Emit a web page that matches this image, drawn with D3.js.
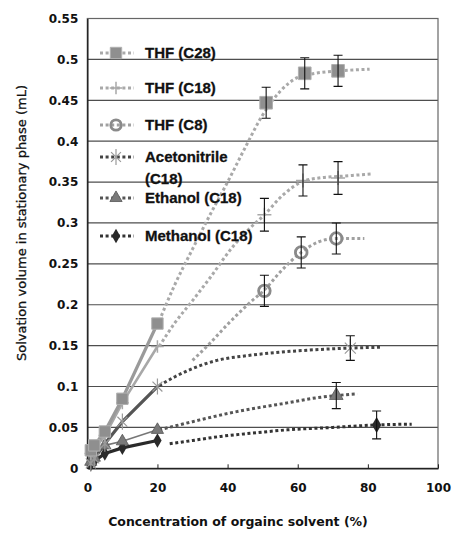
<!DOCTYPE html>
<html><head><meta charset="utf-8">
<script src="https://cdn.jsdelivr.net/npm/d3@7"></script>
<style>body{margin:0;background:#fff}svg{display:block}</style>
</head><body>
<script>
// ---- data ----
const xTicks = [0, 20, 40, 60, 80, 100];
const yTicks = [0, 0.05, 0.1, 0.15, 0.2, 0.25, 0.3, 0.35, 0.4, 0.45, 0.5, 0.55];
const yTickLabels = ["0", "0.05", "0.1", "0.15", "0.2", "0.25", "0.3", "0.35", "0.4", "0.45", "0.5", "0.55"];
const seriesNames = ["THF (C28)", "THF (C18)", "THF (C8)", "Acetonitrile (C18)", "Ethanol (C18)", "Methanol (C18)"];

// low-concentration measured points [conc, volume]
const thfC28Low = [[1, 0.022], [2, 0.028], [5, 0.045], [10, 0.085], [20, 0.177]];
const thfC18Low = [[1, 0.018], [2, 0.024], [5, 0.040], [10, 0.080], [20, 0.149]];
const thfC8Low = [];
const acnLow = [[1, 0.006], [2, 0.012], [5, 0.030], [10, 0.057], [20, 0.100]];
const etohLow = [[1, 0.008], [2, 0.013], [5, 0.028], [10, 0.033], [20, 0.047]];
const meohLow = [[1, 0.005], [2, 0.009], [5, 0.018], [10, 0.025], [20, 0.034]];

// high-concentration points [conc, volume, error]
const thfC28High = [[51, 0.447, 0.019], [62, 0.483, 0.019], [71.5, 0.486, 0.019]];
const thfC18High = [[50.5, 0.310, 0.020], [61.5, 0.352, 0.019], [71.5, 0.355, 0.020]];
const thfC8High = [[50.5, 0.217, 0.019], [61, 0.264, 0.019], [71, 0.281, 0.019]];
const acnHigh = [[75, 0.147, 0.015]];
const etohHigh = [[71, 0.089, 0.016]];
const meohHigh = [[82.5, 0.053, 0.017]];

// dotted trend curves
const thfC28Trend = [[20.5, 0.180], [25, 0.225], [30, 0.268], [35, 0.310], [40, 0.350], [45, 0.392], [50, 0.432], [55, 0.461], [60, 0.478], [65, 0.483], [72, 0.486], [80.5, 0.488]];
const thfC18Trend = [[20.5, 0.149], [25, 0.178], [30, 0.205], [35, 0.233], [41.5, 0.271], [46, 0.292], [50.5, 0.310], [56, 0.335], [61.5, 0.351], [66, 0.355], [72, 0.357], [81.5, 0.360]];
const thfC8Trend = [[30, 0.132], [35, 0.153], [40, 0.176], [47, 0.205], [50.5, 0.218], [55, 0.240], [61, 0.264], [66, 0.277], [71, 0.281], [79, 0.281]];
const acnTrend = [[20.5, 0.101], [25, 0.112], [30, 0.122], [37, 0.132], [46, 0.138], [55, 0.142], [65, 0.145], [75, 0.147], [84, 0.148]];
const etohTrend = [[20.5, 0.047], [30, 0.057], [40, 0.067], [50, 0.075], [57, 0.080], [65, 0.086], [71, 0.089], [77, 0.091]];
const meohTrend = [[23.5, 0.030], [30, 0.034], [38, 0.039], [47, 0.043], [57, 0.047], [70, 0.050], [82.5, 0.053], [92.5, 0.054]];

// ---- layout ----
const W = 452, H = 534;
const svg = d3.select("body").append("svg").attr("width", W).attr("height", H);
const x = d3.scaleLinear().domain([0, 100]).range([87.3, 438]);
const y = d3.scaleLinear().domain([0, 0.55]).range([468.3, 18.5]);

// gridlines
svg.append("g").selectAll("line").data(yTicks.filter(v => v > 0 && v < 0.55)).join("line")
  .attr("x1", x(0)).attr("x2", x(100)).attr("y1", d => y(d)).attr("y2", d => y(d))
  .attr("stroke", "#4e4e4e").attr("stroke-width", 1.2);

// frame
svg.append("rect").attr("x", x(0)).attr("y", y(0.55)).attr("width", x(100) - x(0)).attr("height", y(0) - y(0.55))
  .attr("fill", "none").attr("stroke", "#666").attr("stroke-width", 1.2);

// axes
const yAxis = d3.axisLeft(y).tickValues(yTicks).tickFormat((d, i) => yTickLabels[i]).tickSize(0).tickPadding(9);
const gy = svg.append("g").attr("transform", `translate(${x(0)},0)`).call(yAxis);
gy.select(".domain").attr("stroke", "#222").attr("stroke-width", 1.5);
gy.selectAll("text").attr("font-family", "DejaVu Sans").attr("font-weight", "bold").attr("font-size", 12).attr("fill", "#111");

const xAxis = d3.axisBottom(x).tickValues(xTicks).tickSizeInner(-4).tickSizeOuter(0).tickPadding(15);
const gx = svg.append("g").attr("transform", `translate(0,${y(0)})`).call(xAxis);
gx.select(".domain").attr("stroke", "#222").attr("stroke-width", 1.5);
gx.selectAll(".tick line").attr("stroke", "#222");
gx.selectAll("text").attr("font-family", "DejaVu Sans").attr("font-weight", "bold").attr("font-size", 12).attr("fill", "#111");

// axis titles
svg.append("text").attr("x", 238).attr("y", 526).attr("text-anchor", "middle")
  .attr("font-family", "DejaVu Sans").attr("font-weight", "bold").attr("font-size", 12.5).attr("fill", "#111")
  .text("Concentration of orgainc solvent (%)");
svg.append("text").attr("transform", "translate(26,223) rotate(-90)").attr("text-anchor", "middle")
  .attr("font-family", "DejaVu Sans").attr("font-size", 13).attr("fill", "#111")
  .attr("stroke", "#111").attr("stroke-width", 0.3)
  .text("Solvation volume in stationary phase (mL)");

// series styling
const series = [
  {name: seriesNames[0], low: thfC28Low, high: thfC28High, trend: thfC28Trend, lineC: "#9a9a9a", lineW: 3.2, trendC: "#a9a9a9", mark: "square", markC: "#8f8f8f"},
  {name: seriesNames[1], low: thfC18Low, high: thfC18High, trend: thfC18Trend, lineC: "#a8a8a8", lineW: 2.6, trendC: "#a9a9a9", mark: "plus", markC: "#a8a8a8"},
  {name: seriesNames[2], low: thfC8Low, high: thfC8High, trend: thfC8Trend, lineC: "#9a9a9a", lineW: 2.6, trendC: "#a0a0a0", mark: "circle", markC: "#8a8a8a"},
  {name: seriesNames[3], low: acnLow, high: acnHigh, trend: acnTrend, lineC: "#555", lineW: 3.2, trendC: "#444", mark: "star", markC: "#9a9a9a"},
  {name: seriesNames[4], low: etohLow, high: etohHigh, trend: etohTrend, lineC: "#777", lineW: 1.6, trendC: "#555", mark: "triangle", markC: "#7a7a7a"},
  {name: seriesNames[5], low: meohLow, high: meohHigh, trend: meohTrend, lineC: "#2a2a2a", lineW: 3.2, trendC: "#333", mark: "diamond", markC: "#2a2a2a"}
];

function drawMarker(g, kind, cx, cy, color, s) {
  s = s || 1;
  if (kind === "square") {
    g.append("path").attr("d", d3.symbol(d3.symbolSquare, 160 * s * s)()).attr("transform", `translate(${cx},${cy})`)
      .attr("fill", color).attr("stroke", "#b0b0b0").attr("stroke-width", 1);
  } else if (kind === "plus") {
    const h = 7 * s;
    g.append("path").attr("d", `M${cx - h},${cy}H${cx + h}M${cx},${cy - h}V${cy + h}`)
      .attr("stroke", color).attr("stroke-width", 1.5).attr("fill", "none");
  } else if (kind === "circle") {
    g.append("circle").attr("cx", cx).attr("cy", cy).attr("r", 5.8 * s)
      .attr("fill", "none").attr("stroke", color).attr("stroke-width", 2.8);
  } else if (kind === "star") {
    const a = 5.5 * s, b = 9 * s;
    g.append("path").attr("d", `M${cx - a},${cy - a}L${cx + a},${cy + a}M${cx - a},${cy + a}L${cx + a},${cy - a}M${cx},${cy - b}V${cy + b}`)
      .attr("stroke", color).attr("stroke-width", 1.2).attr("fill", "none");
  } else if (kind === "triangle") {
    g.append("path").attr("d", d3.symbol(d3.symbolTriangle, 80 * s * s)()).attr("transform", `translate(${cx},${cy})`)
      .attr("fill", color).attr("stroke", "#555").attr("stroke-width", 0.8);
  } else if (kind === "diamond") {
    g.append("path").attr("d", d3.symbol(d3.symbolDiamond, 75 * s * s)()).attr("transform", `translate(${cx},${cy})`)
      .attr("fill", color);
  }
}

const line = d3.line().x(d => x(d[0])).y(d => y(d[1]));
const curve = d3.line().x(d => x(d[0])).y(d => y(d[1])).curve(d3.curveMonotoneX);

// trends
const gTrend = svg.append("g");
series.forEach(s => {
  gTrend.append("path").attr("d", curve(s.trend)).attr("fill", "none")
    .attr("stroke", s.trendC).attr("stroke-width", 3).attr("stroke-dasharray", "3,2.6");
});

// low solid lines + markers
const gLow = svg.append("g");
series.slice().reverse().forEach(s => {
  if (s.low.length) gLow.append("path").attr("d", line(s.low)).attr("fill", "none")
    .attr("stroke", s.lineC).attr("stroke-width", s.lineW).attr("stroke-linejoin", "round");
});
series.slice().reverse().forEach(s => {
  s.low.forEach(d => drawMarker(gLow, s.mark, x(d[0]), y(d[1]), s.markC, 0.9));
});

// high markers + error bars
const gHigh = svg.append("g");
series.forEach(s => {
  s.high.forEach(d => {
    drawMarker(gHigh, s.mark, x(d[0]), y(d[1]), s.markC, 1);
    const cx = x(d[0]), t = y(d[1] + d[2]), b = y(d[1] - d[2]);
    gHigh.append("path").attr("d", `M${cx},${t}V${b}M${cx - 4.5},${t}H${cx + 4.5}M${cx - 4.5},${b}H${cx + 4.5}`)
      .attr("stroke", "#111").attr("stroke-width", 1.1).attr("fill", "none");
  });
});

// legend
const legendY = [53, 88, 125, 157, 198, 236];
const gLeg = svg.append("g");
series.forEach((s, i) => {
  const ly = legendY[i];
  gLeg.append("line").attr("x1", 100).attr("x2", 134).attr("y1", ly).attr("y2", ly)
    .attr("stroke", s.trendC).attr("stroke-width", 3).attr("stroke-dasharray", "3,2.6");
  drawMarker(gLeg, s.mark, 116, ly, s.markC, 0.9);
  const words = s.name === "Acetonitrile (C18)" ? ["Acetonitrile", "(C18)"] : [s.name];
  words.forEach((w, k) => {
    gLeg.append("text").attr("x", 145).attr("y", ly + 5 + k * 22)
      .attr("font-family", "Liberation Sans").attr("font-weight", "bold").attr("font-size", 15).attr("fill", "#111")
      .attr("stroke", "#111").attr("stroke-width", 0.3)
      .text(w);
  });
});
</script>
</body></html>
